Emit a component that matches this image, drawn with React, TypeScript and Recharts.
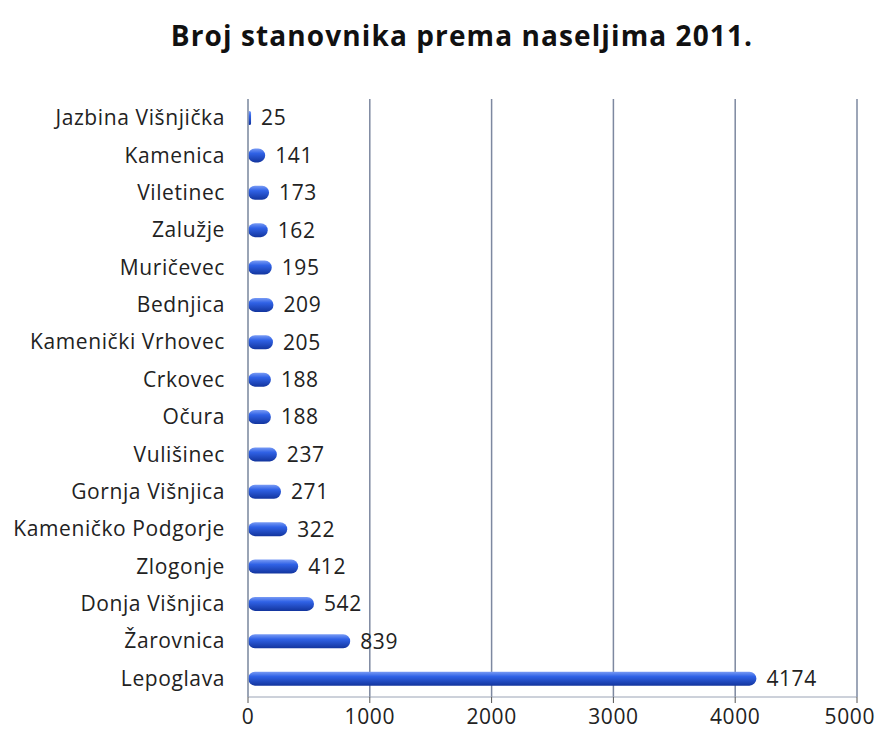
import React from "react";
import { BarChart, Bar, XAxis, YAxis, CartesianGrid, LabelList } from "recharts";

const categories = [
  "Jazbina Višnjička",
  "Kamenica",
  "Viletinec",
  "Zalužje",
  "Muričevec",
  "Bednjica",
  "Kamenički Vrhovec",
  "Crkovec",
  "Očura ",
  "Vulišinec",
  "Gornja Višnjica",
  "Kameničko Podgorje",
  "Zlogonje",
  "Donja Višnjica",
  "Žarovnica",
  "Lepoglava",
];
const population = [25, 141, 173, 162, 195, 209, 205, 188, 188, 237, 271, 322, 412, 542, 839, 4174];
const xTicks = [0, 1000, 2000, 3000, 4000, 5000];

const data = categories.map((name, i) => ({ name, value: population[i] }));

const FONT = "'Open Sans', sans-serif";
const textStyle = { fill: "#222", fontSize: 21, fontFamily: FONT, letterSpacing: 0.6 };

export default function App() {
  return (
    <div style={{ position: "absolute", left: 0, top: 0, width: 875, height: 742, background: "#fff" }}>
      <div
        style={{
          position: "absolute",
          left: 0,
          top: 16,
          width: 924,
          textAlign: "center",
          fontFamily: FONT,
          fontWeight: 700,
          fontSize: 28,
          letterSpacing: 1.1,
          color: "#111",
        }}
      >
        Broj stanovnika prema naseljima 2011.
      </div>
      <BarChart
        width={875}
        height={742}
        data={data}
        layout="vertical"
        margin={{ top: 99, right: 18, left: 0, bottom: 10 }}
        barCategoryGap={0}
      >
        <defs>
          <linearGradient id="barGrad" x1="0" y1="0" x2="0" y2="1">
            <stop offset="0%" stopColor="#7a9cf5" />
            <stop offset="35%" stopColor="#3062e6" />
            <stop offset="100%" stopColor="#13359e" />
          </linearGradient>
        </defs>
        <CartesianGrid horizontal={false} vertical stroke="#7d88a0" strokeWidth={1.5} />
        <XAxis
          type="number"
          domain={[0, 5000]}
          ticks={xTicks}
          height={35}
          tickSize={6}
          tickMargin={6}
          axisLine={{ stroke: "#9aa3b5" }}
          tickLine={{ stroke: "#555" }}
          tick={textStyle}
        />
        <YAxis
          type="category"
          dataKey="name"
          width={248}
          tickSize={8}
          tickMargin={15}
          axisLine={{ stroke: "#9aa3b5", strokeWidth: 1.5 }}
          tickLine={false}
          interval={0}
          tick={textStyle}
        />
        <Bar dataKey="value" fill="url(#barGrad)" barSize={14} radius={7} isAnimationActive={false}>
          <LabelList dataKey="value" position="right" offset={10} style={textStyle} />
        </Bar>
      </BarChart>
    </div>
  );
}
